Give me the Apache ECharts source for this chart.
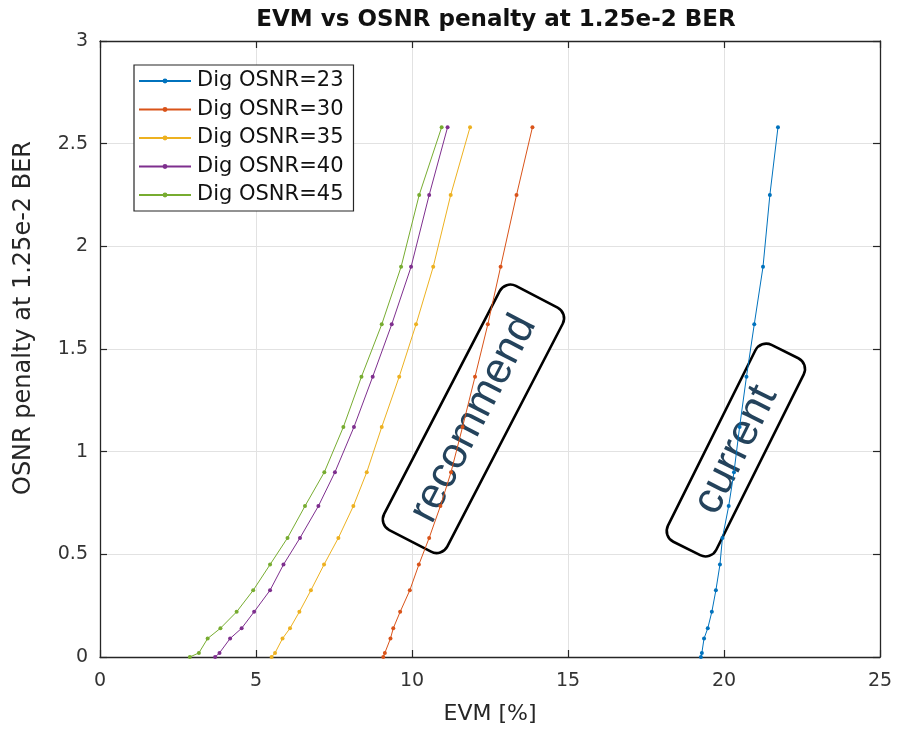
<!DOCTYPE html>
<html>
<head>
<meta charset="utf-8">
<script src="https://cdn.jsdelivr.net/npm/echarts@6/dist/echarts.min.js"></script>
<style>html,body{margin:0;padding:0;background:#fff}#c{width:900px;height:731px}</style>
</head>
<body>
<div id="c"></div>
<script>
// ---- data ----
const penaltyLevels = [0, 0.02, 0.09, 0.14, 0.22, 0.325, 0.45, 0.58, 0.735, 0.9, 1.12, 1.365, 1.62, 1.9, 2.25, 2.58];
const evmDig23 = [19.26, 19.29, 19.36, 19.48, 19.61, 19.74, 19.87, 19.95, 20.15, 20.32, 20.5, 20.72, 20.97, 21.25, 21.47, 21.73];
const evmDig30 = [9.08, 9.13, 9.31, 9.40, 9.62, 9.93, 10.22, 10.55, 10.91, 11.25, 11.62, 12.02, 12.43, 12.84, 13.35, 13.86];
const evmDig35 = [5.50, 5.61, 5.85, 6.09, 6.39, 6.76, 7.18, 7.64, 8.12, 8.55, 9.03, 9.59, 10.13, 10.68, 11.24, 11.86];
const evmDig40 = [3.69, 3.83, 4.17, 4.54, 4.94, 5.45, 5.88, 6.41, 7.00, 7.53, 8.14, 8.74, 9.35, 9.97, 10.55, 11.14];
const evmDig45 = [2.88, 3.17, 3.45, 3.86, 4.38, 4.91, 5.45, 6.01, 6.57, 7.19, 7.80, 8.38, 9.03, 9.65, 10.23, 10.95];
const seriesNames = ['Dig OSNR=23', 'Dig OSNR=30', 'Dig OSNR=35', 'Dig OSNR=40', 'Dig OSNR=45'];
const xTicks = [0, 5, 10, 15, 20, 25];
const yTicks = [0, 0.5, 1, 1.5, 2, 2.5, 3];
const noteTexts = ['recommend', 'current'];

// ---- styling ----
const colors = ['#0072BD', '#D95319', '#EDB120', '#7E2F8E', '#77AC30'];
const FONT = 'DejaVu Sans';
const AX = '#262626';
const allEvm = [evmDig23, evmDig30, evmDig35, evmDig40, evmDig45];

const chart = echarts.init(document.getElementById('c'), null, {renderer: 'canvas'});

const series = allEvm.map((arr, k) => ({
  name: seriesNames[k],
  type: 'line',
  data: arr.map((x, i) => [x, penaltyLevels[i]]),
  symbol: 'circle',
  symbolSize: 4,
  showSymbol: true,
  lineStyle: {width: 1, color: colors[k]},
  itemStyle: {color: colors[k]},
  emphasis: {disabled: true},
  animation: false,
  z: 3
}));

const xMin = xTicks[0], xMax = xTicks[xTicks.length - 1];
const yMin = yTicks[0], yMax = yTicks[yTicks.length - 1];

chart.setOption({
  backgroundColor: '#fff',
  animation: false,
  color: colors,
  title: {
    text: 'EVM vs OSNR penalty at 1.25e-2 BER',
    left: 491, top: 4, textAlign: 'center',
    textStyle: {fontFamily: FONT, fontSize: 23, fontWeight: 'bold', color: '#111'}
  },
  grid: {left: 100, right: 20, top: 41, bottom: 74, containLabel: false, outerBoundsMode: 'none'},
  legend: {
    orient: 'vertical',
    left: 134, top: 65,
    data: seriesNames,
    backgroundColor: '#fff',
    borderColor: AX, borderWidth: 1.2,
    padding: [5, 10, 5, 4],
    itemWidth: 52, itemHeight: 6, itemGap: 6.5,
    textStyle: {fontFamily: FONT, fontSize: 21, lineHeight: 22, color: '#111', padding: [0, 0, 0, 1]},
    z: 10
  },
  xAxis: [{
    type: 'value', min: xMin, max: xMax, interval: 5,
    name: 'EVM [%]', nameLocation: 'middle', nameGap: 46,
    nameTextStyle: {fontFamily: FONT, fontSize: 22, color: AX},
    axisLine: {show: true, onZero: false, lineStyle: {color: AX, width: 1.3}},
    axisTick: {show: true, inside: true, length: 7, lineStyle: {color: AX, width: 1.2}},
    axisLabel: {fontFamily: FONT, fontSize: 19, color: '#333', margin: 15},
    splitLine: {show: true, lineStyle: {color: '#e2e2e2', width: 1}}
  }, {
    type: 'value', min: xMin, max: xMax, interval: 5, position: 'top',
    axisLine: {show: true, onZero: false, lineStyle: {color: AX, width: 1.3}},
    axisTick: {show: true, inside: true, length: 7, lineStyle: {color: AX, width: 1.2}},
    axisLabel: {show: false}, splitLine: {show: false}
  }],
  yAxis: [{
    type: 'value', min: yMin, max: yMax, interval: 0.5,
    name: 'OSNR penalty at 1.25e-2 BER', nameLocation: 'middle', nameGap: 64, nameRotate: 90,
    nameTextStyle: {fontFamily: FONT, fontSize: 24, color: AX, padding: [0, 0, 0, 62]},
    axisLine: {show: true, onZero: false, lineStyle: {color: AX, width: 1.3}},
    axisTick: {show: true, inside: true, length: 7, lineStyle: {color: AX, width: 1.2}},
    axisLabel: {fontFamily: FONT, fontSize: 19, color: '#333', margin: 12},
    splitLine: {show: true, lineStyle: {color: '#e2e2e2', width: 1}}
  }, {
    type: 'value', min: yMin, max: yMax, interval: 0.5, position: 'right',
    axisLine: {show: true, onZero: false, lineStyle: {color: AX, width: 1.3}},
    axisTick: {show: true, inside: true, length: 7, lineStyle: {color: AX, width: 1.2}},
    axisLabel: {show: false}, splitLine: {show: false}
  }],
  series: series
});

// ---- rotated annotation boxes, anchored in data coordinates ----
const notes = [
  {text: noteTexts[0], at: [11.97, 1.16], w: 275, h: 71, deg: 62.6, fs: 43},
  {text: noteTexts[1], at: [20.38, 1.008], w: 220, h: 54, deg: 63.5, fs: 44}
];
const graphics = notes.map(n => {
  const p = chart.convertToPixel({xAxisIndex: 0, yAxisIndex: 0}, n.at);
  return {
    type: 'group', x: p[0], y: p[1], rotation: n.deg * Math.PI / 180, z: 20,
    children: [
      {type: 'rect', shape: {x: -n.w / 2, y: -n.h / 2, width: n.w, height: n.h, r: 12},
       style: {fill: '#fff', stroke: '#000', lineWidth: 2.6}},
      {type: 'text', x: 0, y: 0,
       style: {text: n.text, fontFamily: 'Liberation Sans', fontSize: n.fs, fill: '#24435c',
               align: 'center', verticalAlign: 'middle'}}
    ]
  };
});
chart.setOption({graphic: graphics});
</script>
</body>
</html>
